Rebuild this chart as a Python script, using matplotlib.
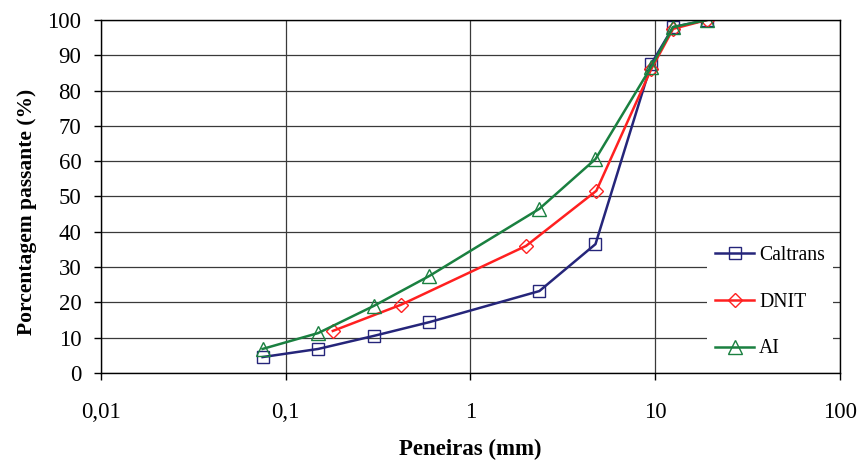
import matplotlib
matplotlib.use("Agg")
import matplotlib.pyplot as plt

# ============================
# Data
# ============================
sieves = [0.075, 0.15, 0.3, 0.6, 2.36, 4.75, 9.5, 12.5, 19]
caltrans = [4.5, 6.8, 10.5, 14.4, 23.2, 36.5, 87.5, 98, 100]

dnit_sieves = [0.18, 0.42, 2.0, 4.8, 9.5, 12.5, 19]
dnit = [11.9, 19.3, 36.0, 51.6, 86.0, 97.5, 100]

ai = [6.8, 11.3, 19.0, 27.5, 46.5, 60.6, 86.7, 98, 100]

x_ticks = [0.01, 0.1, 1, 10, 100]
x_tick_labels = ["0,01", "0,1", "1", "10", "100"]
y_ticks = list(range(0, 101, 10))

plt.rcParams['font.family'] = ['Liberation Serif', 'DejaVu Serif']

fig = plt.figure(figsize=(8.62, 4.61), dpi=100)
ax = fig.add_axes([0.117, 0.191, 0.8575, 0.7656])

ax.plot(sieves, caltrans, color='#25257a', lw=1.8, marker='s', ms=9,
        mfc='none', mec='#25257a', mew=1.0, label='Caltrans')
ax.plot(dnit_sieves, dnit, color='#ff2020', lw=1.8, marker='D', ms=7.5,
        mfc='none', mec='#ff2020', mew=1.0, label='DNIT')
ax.plot(sieves, ai, color='#1a8040', lw=1.8, marker='^', ms=9.5,
        mfc='none', mec='#1a8040', mew=1.0, label='AI')

ax.set_xscale('log')
ax.set_xlim(0.01, 100)
ax.set_ylim(0, 100)
ax.set_xticks(x_ticks)
ax.set_xticklabels(x_tick_labels)
ax.xaxis.set_minor_locator(matplotlib.ticker.NullLocator())
ax.set_yticks(y_ticks)

ax.grid(True, color='#3a3a3a', lw=0.9)
ax.set_axisbelow(True)
for s in ax.spines.values():
    s.set_color('black')
    s.set_linewidth(1.0)

ax.tick_params(axis='both', labelsize=16.5, direction='out', length=5, width=1)
ax.tick_params(axis='y', pad=9)
ax.tick_params(axis='x', pad=16)

ax.set_xlabel("Peneiras (mm)", fontsize=16.5, fontweight='bold', labelpad=11)
ax.set_ylabel("Porcentagem passante (%)", fontsize=15.5, fontweight='bold')
ax.yaxis.set_label_coords(-0.087, 0.455)

leg = ax.legend(loc='center left', bbox_to_anchor=(0.82, 0.20),
                fontsize=14.2, frameon=True, fancybox=False, edgecolor='none',
                facecolor='white', framealpha=1, handlelength=2.0,
                handletextpad=0.25, labelspacing=1.4, borderaxespad=0)

fig.savefig("out.png", dpi=100)
